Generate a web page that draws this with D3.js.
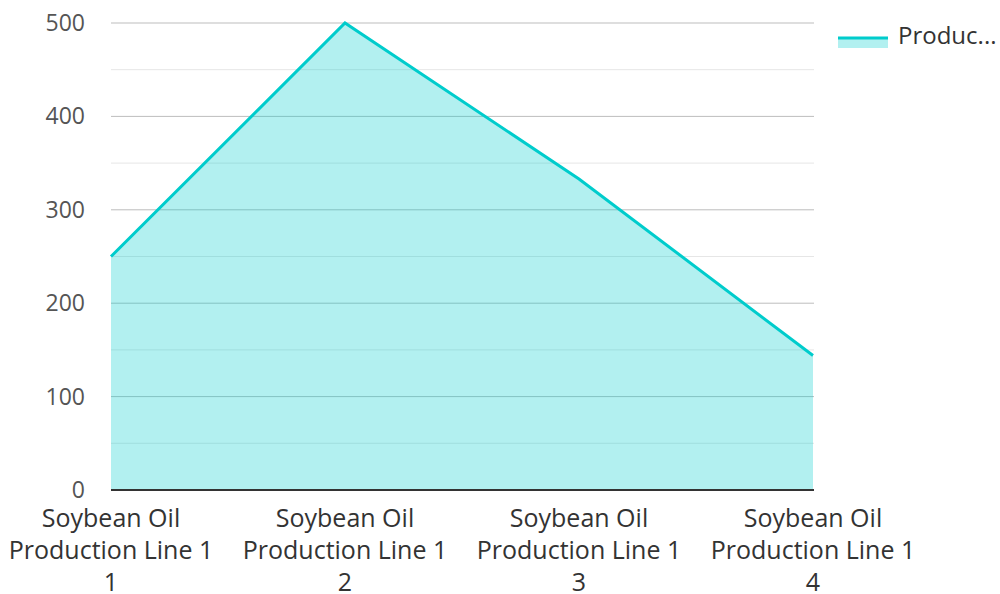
<!DOCTYPE html>
<html>
  <head>
    <meta charset="utf-8">
    <title>Production line area chart</title>
    <script src="https://cdn.jsdelivr.net/npm/d3@7"></script>
    <style>
      body { margin: 0; background: #fff; }
      svg text { font-family: "Open Sans", "Noto Sans", sans-serif; fill: #333; }
    </style>
  </head>
  <body>
    <svg id="chart" width="1000" height="594"></svg>
    <script>
      // data
      categories = [
        "Soybean Oil Production Line 1 1",
        "Soybean Oil Production Line 1 2",
        "Soybean Oil Production Line 1 3",
        "Soybean Oil Production Line 1 4"
      ];
      values = [250, 500, 333, 144];
      seriesName = "Production";
      yTicks = [0, 100, 200, 300, 400, 500];
      yMinor = [50, 150, 250, 350, 450];

      // layout
      margin = { left: 111, right: 187, top: 23, bottom: 104 };
      width = 1000;
      height = 594;
      lineColor = "#00cccc";

      svg = d3.select("#chart");

      x = d3.scalePoint()
        .domain(categories)
        .range([margin.left, width - margin.right]);
      y = d3.scaleLinear()
        .domain([0, 500])
        .range([height - margin.bottom, margin.top]);

      // minor grid
      svg.append("g")
        .selectAll("line")
        .data(yMinor)
        .enter().append("line")
          .attr("x1", margin.left)
          .attr("x2", width - margin.right + 1)
          .attr("y1", function(d) { return y(d); })
          .attr("y2", function(d) { return y(d); })
          .attr("stroke", "#e6e6e6")
          .attr("stroke-width", 1);

      // major grid
      svg.append("g")
        .selectAll("line")
        .data(yTicks.slice(1))
        .enter().append("line")
          .attr("x1", margin.left)
          .attr("x2", width - margin.right + 1)
          .attr("y1", function(d) { return y(d); })
          .attr("y2", function(d) { return y(d); })
          .attr("stroke", "#bdbdbd")
          .attr("stroke-width", 1);

      // area + line
      area = d3.area()
        .x(function(d, i) { return x(categories[i]); })
        .y0(y(0))
        .y1(function(d) { return y(d); });
      line = d3.line()
        .x(function(d, i) { return x(categories[i]); })
        .y(function(d) { return y(d); });

      svg.append("path")
        .datum(values)
        .attr("d", area)
        .attr("fill", lineColor)
        .attr("fill-opacity", 0.3);
      svg.append("path")
        .datum(values)
        .attr("d", line)
        .attr("fill", "none")
        .attr("stroke", lineColor)
        .attr("stroke-width", 3);

      // baseline
      svg.append("line")
        .attr("x1", margin.left)
        .attr("x2", width - margin.right + 1)
        .attr("y1", y(0))
        .attr("y2", y(0))
        .attr("stroke", "#333")
        .attr("stroke-width", 2);

      // y labels
      svg.append("g")
        .selectAll("text")
        .data(yTicks)
        .enter().append("text")
          .attr("x", 85)
          .attr("y", function(d) { return y(d); })
          .attr("dy", "0.35em")
          .attr("text-anchor", "end")
          .style("font-size", "23px")
          .style("fill", "#555")
          .text(function(d) { return d; });

      // x labels, wrapped
      function wrapLabel(label) {
        words = label.split(" ");
        lines = [];
        current = "";
        words.forEach(function(w) {
          test = current ? current + " " + w : w;
          if (test.length > 17 && current) {
            lines.push(current);
            current = w;
          } else {
            current = test;
          }
        });
        lines.push(current);
        return lines;
      }

      xLabels = svg.append("g")
        .selectAll("text")
        .data(categories)
        .enter().append("text")
          .attr("text-anchor", "middle")
          .style("font-size", "25px");
      xLabels.each(function(d) {
        t = d3.select(this);
        wrapLabel(d).forEach(function(l, i) {
          t.append("tspan")
            .attr("x", x(d))
            .attr("y", 527 + i * 32)
            .text(l);
        });
      });

      // legend
      legend = svg.append("g");
      legend.append("rect")
        .attr("x", 838)
        .attr("y", 38)
        .attr("width", 50)
        .attr("height", 10)
        .attr("fill", lineColor)
        .attr("fill-opacity", 0.3);
      legend.append("line")
        .attr("x1", 838)
        .attr("x2", 888)
        .attr("y1", 38)
        .attr("y2", 38)
        .attr("stroke", lineColor)
        .attr("stroke-width", 3);
      legend.append("text")
        .attr("x", 898)
        .attr("y", 36)
        .attr("dy", "0.35em")
        .style("font-size", "24px")
        .text(seriesName.slice(0, 6) + "...");
    </script>
  </body>
</html>
